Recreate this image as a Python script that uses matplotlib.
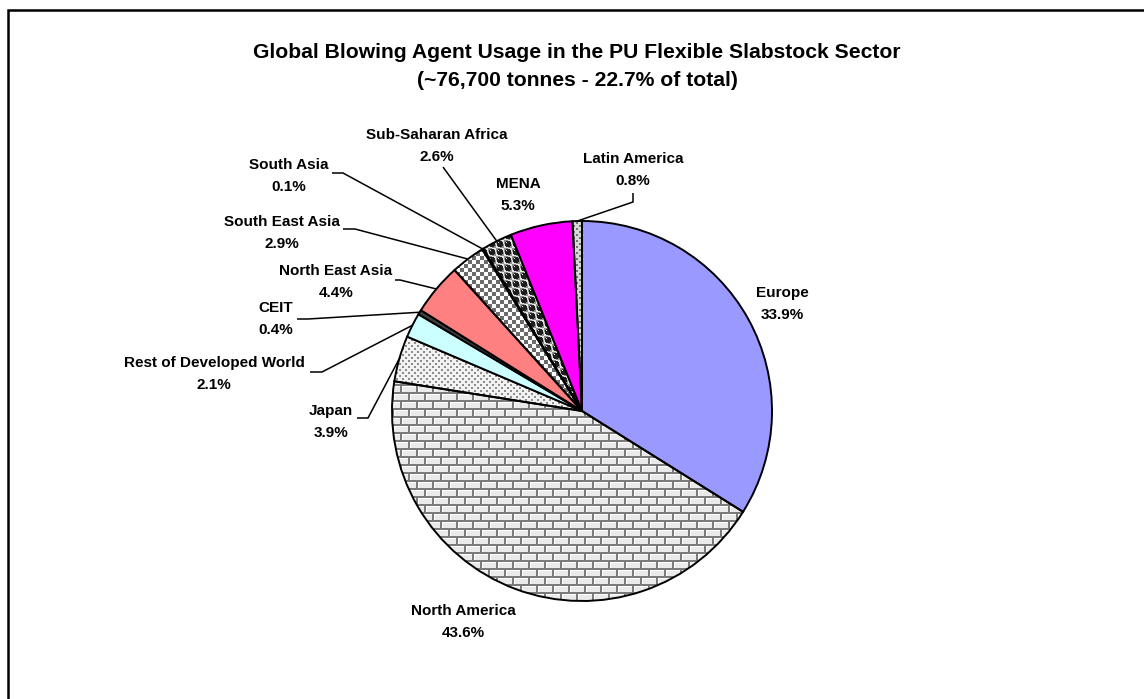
import numpy as np
import matplotlib
matplotlib.use("Agg")
import matplotlib.pyplot as plt

# blowing agent share by region, in pie order (clockwise from 12 o'clock)
regions = ["Europe", "North America", "Japan", "Rest of Developed World", "CEIT",
           "North East Asia", "South East Asia", "South Asia", "Sub-Saharan Africa",
           "MENA", "Latin America"]
shares = [33.9, 43.6, 3.9, 2.1, 0.4, 4.4, 2.9, 0.1, 2.6, 5.3, 0.8]

title_lines = ["Global Blowing Agent Usage in the PU Flexible Slabstock Sector",
               "(~76,700 tonnes - 22.7% of total)"]

# canvas in pixels, pie centre / radius in pixels measured from the top-left
W, H = 1144, 699
cx, cy, R = 582, 411, 190

# wedge fills: plain colours or a named texture
fills = ["#9999FF", "brick", "dots", "#CCFFFF", "#404040", "#FF8080",
         "checker", "#A0A0FF", "balls", "#FF00FF", "dots_dark"]

# label centres (px)
label_xy = {
    "Europe": (782, 304),
    "North America": (463, 622),
    "Japan": (331, 422),
    "Rest of Developed World": (214, 374),
    "CEIT": (276, 319),
    "North East Asia": (336, 282),
    "South East Asia": (282, 233),
    "South Asia": (289, 176),
    "Sub-Saharan Africa": (437, 146),
    "MENA": (518, 195),
    "Latin America": (633, 170),
}
# leader line points (px) before the wedge edge
leader_pts = {
    "Japan": [(357, 418), (368, 418)],
    "Rest of Developed World": [(310, 372), (322, 372)],
    "CEIT": [(297, 319), (308, 319)],
    "North East Asia": [(395, 280), (400, 280)],
    "South East Asia": [(343, 229), (355, 229)],
    "South Asia": [(332, 173), (343, 173)],
    "Sub-Saharan Africa": [(443, 167)],
    "Latin America": [(633, 193), (633, 202)],
}

plt.rcParams["font.family"] = ["Liberation Sans", "DejaVu Sans"]
plt.rcParams["font.weight"] = "bold"


def py(y):
    # pixel row -> data y
    return H - y


yy, xx = np.mgrid[0:H, 0:W]


def texture(name):
    g = np.ones((H, W))
    if name == "brick":
        row = yy // 8
        bx = (xx + (row % 2) * 8) % 16
        by = yy % 8
        g[:] = 0.92
        g[(by == 2) | (bx == 2)] = 1.0
        g[(by < 2) | (bx < 2)] = 0.48
    elif name in ("dots", "dots_dark"):
        m = ((xx // 3 + yy // 3) % 2 == 0) & (xx % 3 < 2) & (yy % 3 < 2)
        if name == "dots":
            g[:] = 0.95
            g[m] = 0.55
        else:
            g[:] = 0.85
            g[m] = 0.45
    elif name == "checker":
        g[:] = 1.0
        g[(xx // 4 + yy // 4) % 2 == 0] = 0.42
    elif name == "balls":
        g[:] = 0.9
        g[(xx // 4 + yy // 4) % 2 == 0] = 0.55
        dx = (xx % 8) - 3.5
        dy = (yy % 8) - 3.5
        g[dx ** 2 + dy ** 2 < 9] = 0.12
        g[(np.abs(dx + 1.5) < 0.6) & (np.abs(dy + 1.5) < 0.6)] = 1.0
    return np.dstack([g, g, g])


fig = plt.figure(figsize=(W / 100, H / 100), dpi=100)
ax = fig.add_axes([0, 0, 1, 1])

face = ["none" if not f.startswith("#") else f for f in fills]
wedges, _ = ax.pie(shares, startangle=90, counterclock=False,
                   center=(cx, py(cy)), radius=R, colors=face,
                   wedgeprops=dict(edgecolor="black", linewidth=1.4, zorder=3))

for w, f in zip(wedges, fills):
    if f.startswith("#"):
        continue
    im = ax.imshow(texture(f), extent=(0, W, 0, H), origin="upper",
                   interpolation="nearest", zorder=2)
    im.set_clip_path(w)

# labels and leader lines
total = sum(shares)
cum = 0.0
for name, val in zip(regions, shares):
    mid = cum + val / 2
    cum += val
    ang = np.deg2rad(90 - 360 * mid / total)
    ex, ey = cx + R * np.cos(ang), cy - R * np.sin(ang)
    lx, ly = label_xy[name]
    ax.text(lx, py(ly), f"{name}\n{val:.1f}%", ha="center", va="center",
            fontsize=11, fontweight="bold", linespacing=1.7, zorder=5)
    if name in leader_pts:
        pts = leader_pts[name] + [(ex, ey)]
        ax.plot([p[0] for p in pts], [py(p[1]) for p in pts],
                color="black", lw=1.1, zorder=4, solid_capstyle="butt")

ax.text(577, py(52), title_lines[0], ha="center", va="center",
        fontsize=15.2, fontweight="bold")
ax.text(577, py(80), title_lines[1], ha="center", va="center",
        fontsize=15.2, fontweight="bold")

# chart frame (left and top edges)
ax.plot([8, 8, W + 5], [-5, py(10), py(10)], color="black", lw=1.8,
        solid_joinstyle="miter")

ax.set_xlim(0, W)
ax.set_ylim(0, H)
ax.set_aspect("auto")
ax.axis("off")

fig.savefig("out.png", dpi=100)
